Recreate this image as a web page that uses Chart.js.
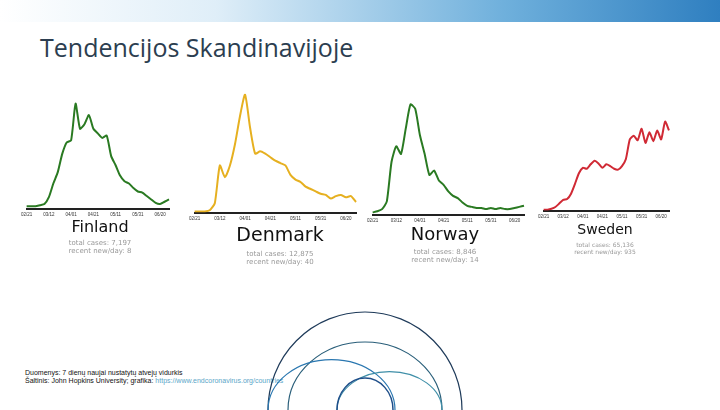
<!DOCTYPE html>
<html><head><meta charset="utf-8">
<script src="https://cdn.jsdelivr.net/npm/chart.js@4/dist/chart.umd.min.js"></script>
<style>
body{margin:0;width:720px;height:410px;background:#fff;position:relative;overflow:hidden;font-family:"DejaVu Sans",sans-serif}
.banner{position:absolute;left:0;top:0;width:720px;height:22px;background:linear-gradient(90deg,#fff 0%,#dfeef8 30%,#6fb0dc 70%,#2f7fc0 100%)}
h1{position:absolute;left:40px;top:30px;margin:0;font:400 25px "Open Sans",sans-serif;color:#2c3e50}
.box{position:absolute}
.name{position:absolute;text-align:center;color:#111}
.stat{position:absolute;text-align:center;color:#999;font-size:7px;line-height:8px}
.foot{position:absolute;left:25px;top:369px;font:7px "Liberation Sans",Arial;line-height:8px;color:#111}
.foot a{color:#5aa6c8}
svg{position:absolute;left:0;top:0}
</style></head><body>
<div class="banner"></div>
<h1>Tendencijos Skandinavijoje</h1>

<div class="box" style="left:18px;top:90px;width:155px;height:130px"><canvas id="c0"></canvas></div>
<div class="box" style="left:186px;top:90px;width:174px;height:134px"><canvas id="c1"></canvas></div>
<div class="box" style="left:364px;top:100px;width:164px;height:126px"><canvas id="c2"></canvas></div>
<div class="box" style="left:535px;top:118px;width:138px;height:104px"><canvas id="c3"></canvas></div>

<div class="name" style="left:45px;top:217px;width:110px;font-size:16px">Finland</div>
<div class="stat" style="left:45px;top:239px;width:110px">total cases: 7,197<br>recent new/day: 8</div>
<div class="name" style="left:215px;top:223px;width:130px;font-size:19px">Denmark</div>
<div class="stat" style="left:215px;top:250px;width:130px">total cases: 12,875<br>recent new/day: 40</div>
<div class="name" style="left:385px;top:223px;width:120px;font-size:18px">Norway</div>
<div class="stat" style="left:385px;top:248px;width:120px">total cases: 8,846<br>recent new/day: 14</div>
<div class="name" style="left:555px;top:221px;width:100px;font-size:14px">Sweden</div>
<div class="stat" style="left:555px;top:241px;width:100px;font-size:6px;line-height:7px">total cases: 65,136<br>recent new/day: 935</div>

<div class="foot">Duomenys: 7 dienų naujai nustatytų atvejų vidurkis<br>Šaltinis: John Hopkins University; grafika: <a>https://www.endcoronavirus.org/countries</a></div>

<svg width="720" height="410" fill="none" stroke-width="1.2">
<path d="M268 410 A97 98 0 0 1 462 410" stroke="#1f3b5a"/>
<path d="M288 410 A77 68 0 0 1 442 410" stroke="#2a5f7a"/>
<path d="M268 410 A63 50 0 0 1 395 410" stroke="#2a77b0"/>
<path d="M337 410 A52 38 0 0 1 442 410" stroke="#3f8fa8"/>
<path d="M337 410 A28 32 0 0 1 393 410" stroke="#1f4f8a" stroke-width="1.5"/>
</svg>

<script>
const dates = ['02/21','02/25','02/29','03/04','03/08','03/12','03/16','03/20','03/24','03/28','04/01','04/05','04/09','04/13','04/17','04/21','04/25','04/29','05/03','05/07','05/11','05/15','05/19','05/23','05/27','05/31','06/04','06/08','06/12','06/16','06/20','06/24','06/28'];
const tickLabels = ['02/21','03/12','04/01','04/21','05/11','05/31','06/20'];
const finland = [2,2,2,3,4,10,22,32,48,58,60,92,70,74,82,70,66,62,64,46,38,29,24,22,18,15,14,11,8,5,4,6,8];
const denmark = [1,1,1,2,8,40,30,40,58,82,100,72,50,52,50,47,44,42,40,32,28,26,22,20,18,16,15,12,14,15,13,14,9];
const norway = [2,3,5,12,48,62,55,78,100,96,72,55,36,40,31,27,21,17,15,11,8,7,6,6,5,6,5,6,5,5,6,7,8];
const sweden = [1,1,2,4,8,12,13,19,30,42,48,47,52,56,53,48,52,50,47,46,50,58,80,84,79,92,76,88,78,90,80,100,90];
const series = [
  {id:'c0', data:finland, color:'#2a7a22'},
  {id:'c1', data:denmark, color:'#e6b020'},
  {id:'c2', data:norway, color:'#2a7a22'},
  {id:'c3', data:sweden, color:'#d02a35'}
];
series.forEach(s => {
  new Chart(document.getElementById(s.id), {
    type:'line',
    data:{labels:dates, datasets:[{data:s.data, borderColor:s.color, borderWidth:2, pointRadius:0, tension:0.2}]},
    options:{
      animation:false, responsive:true, maintainAspectRatio:false,
      plugins:{legend:{display:false}, tooltip:{enabled:false}},
      layout:{padding:{left:4,right:4,top:0,bottom:0}},
      scales:{
        y:{display:false, min:0, max:104},
        x:{
          grid:{display:false, drawTicks:false},
          border:{color:'#222', width:2},
          ticks:{autoSkip:false, maxRotation:0, padding:3, font:{size:4.5}, color:'#333',
            callback:(v,i)=> tickLabels.includes(dates[i]) ? dates[i] : ''}
        }
      }
    }
  });
});
</script>
</body></html>
